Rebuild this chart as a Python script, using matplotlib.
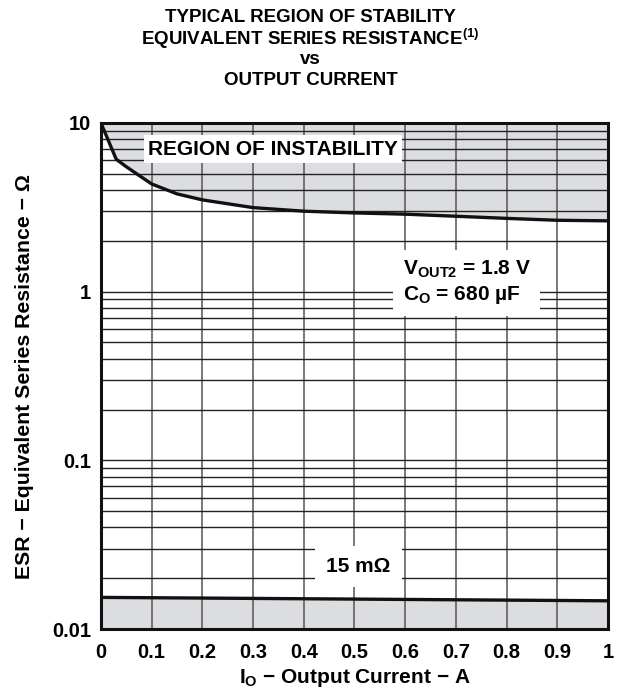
import matplotlib
matplotlib.use("Agg")
import matplotlib.pyplot as plt
from matplotlib.ticker import FixedLocator, NullFormatter

plt.rcParams['font.family'] = ['Liberation Sans', 'DejaVu Sans']
plt.rcParams['font.weight'] = 'bold'
plt.rcParams['mathtext.fontset'] = 'custom'
plt.rcParams['mathtext.rm'] = 'Liberation Sans:bold'
plt.rcParams['mathtext.it'] = 'Liberation Sans:bold'
plt.rcParams['mathtext.bf'] = 'Liberation Sans:bold'

# Upper stability boundary (ESR vs output current)
current_a = [0.0, 0.03, 0.05, 0.10, 0.15, 0.20, 0.30, 0.40, 0.50, 0.60, 0.70, 0.80, 0.90, 1.00]
esr_upper = [10.0, 6.1, 5.5, 4.35, 3.8, 3.5, 3.15, 3.0, 2.93, 2.88, 2.8, 2.72, 2.65, 2.63]

# Lower stability boundary (~15 mOhm)
low_current = [0.0, 1.0]
esr_lower = [0.0154, 0.0147]

x_ticks = [0, 0.1, 0.2, 0.3, 0.4, 0.5, 0.6, 0.7, 0.8, 0.9, 1]
x_tick_labels = ['0', '0.1', '0.2', '0.3', '0.4', '0.5', '0.6', '0.7', '0.8', '0.9', '1']
y_ticks = [0.01, 0.1, 1, 10]
y_tick_labels = ['0.01', '0.1', '1', '10']

fill_color = '#dcdde0'

fig = plt.figure(figsize=(6.21, 7.0), dpi=100)
ax = fig.add_axes([0.1626, 0.1014, 0.8164, 0.7229])
ax.set_yscale('log')
ax.set_xlim(0, 1)
ax.set_ylim(0.01, 10)

# Shaded regions of instability
ax.fill_between(current_a, esr_upper, 10, color=fill_color, zorder=0, linewidth=0)
ax.fill_between(low_current, 0.01, esr_lower, color=fill_color, zorder=0, linewidth=0)

# Grid
minor_y = [m * 10.0 ** d for d in (-2, -1, 0) for m in range(2, 10)]
ax.yaxis.set_minor_locator(FixedLocator(minor_y))
ax.yaxis.set_minor_formatter(NullFormatter())
ax.set_xticks(x_ticks)
ax.set_xticklabels(x_tick_labels)
ax.set_yticks(y_ticks)
ax.set_yticklabels(y_tick_labels)
ax.grid(True, which='both', axis='y', color='#222222', linewidth=1.0, zorder=1)
ax.grid(True, which='major', axis='x', color='#555555', linewidth=1.1, zorder=1)
ax.set_axisbelow(True)
ax.tick_params(which='both', length=0, labelsize=14.5)
ax.tick_params(axis='x', pad=10)
ax.tick_params(axis='y', pad=7)

# Boundary curves
ax.plot(current_a, esr_upper, color='#111111', linewidth=2.4, zorder=3)
ax.plot(low_current, esr_lower, color='#111111', linewidth=2.4, zorder=3)

for s in ax.spines.values():
    s.set_linewidth(2.2)
    s.set_color('#111111')
    s.set_zorder(5)

# Annotations
ax.text(0.34, 7.0, 'REGION OF INSTABILITY', ha='center', va='center', fontsize=15,
        fontweight='bold', zorder=4,
        bbox=dict(facecolor='white', edgecolor='none', pad=3))
ax.text(0.595, 1.13, r'$\mathrm{V_{OUT2}}$ = 1.8 V' + '\n' + r'$\mathrm{C_{O}}$ = 680 µF',
        ha='left', va='center', fontsize=15, fontweight='bold', zorder=4,
        linespacing=1.25,
        bbox=dict(facecolor='white', edgecolor='none', pad=7))
ax.text(0.508, 0.0235, '15 mΩ', ha='center', va='center', fontsize=15,
        fontweight='bold', zorder=4,
        bbox=dict(facecolor='white', edgecolor='none', pad=8))

ax.set_xlabel(r'$\mathrm{I_{O}}$ − Output Current − A', fontsize=15, fontweight='bold', labelpad=4)
ax.set_ylabel('ESR − Equivalent Series Resistance − Ω', fontsize=15.3, fontweight='bold', labelpad=13)

fig.text(0.5, 0.975, 'TYPICAL REGION OF STABILITY', ha='center', va='center', fontsize=13.5, fontweight='bold')
fig.text(0.5, 0.945, r'EQUIVALENT SERIES RESISTANCE$^{(1)}$', ha='center', va='center', fontsize=13.5, fontweight='bold')
fig.text(0.5, 0.915, 'vs', ha='center', va='center', fontsize=13.5, fontweight='bold')
fig.text(0.5, 0.885, 'OUTPUT CURRENT', ha='center', va='center', fontsize=13.5, fontweight='bold')

fig.savefig('out.png', dpi=100)
